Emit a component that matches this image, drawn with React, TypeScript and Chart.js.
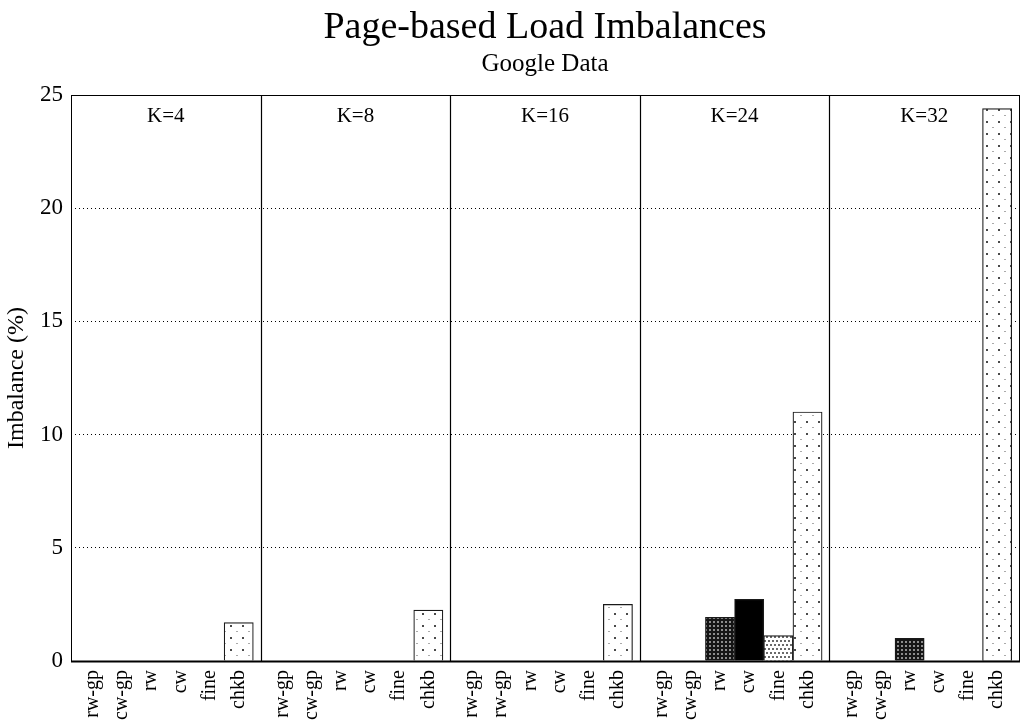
import { useEffect, useRef } from 'react';
import { Chart, registerables } from 'chart.js';

Chart.register(...registerables);

// Series order inside every group of bars
const seriesNames = ['rw-gp', 'cw-gp', 'rw', 'cw', 'fine', 'chkb'];

// One group of bars per partition count
const groupLabels = ['K=4', 'K=8', 'K=16', 'K=24', 'K=32'];

// Tick labels printed under each group
const tickLabelsK4 = ['rw-gp', 'cw-gp', 'rw', 'cw', 'fine', 'chkb'];
const tickLabelsK8 = ['rw-gp', 'cw-gp', 'rw', 'cw', 'fine', 'chkb'];
const tickLabelsK16 = ['rw-gp', 'rw-gp', 'rw', 'cw', 'fine', 'chkb'];
const tickLabelsK24 = ['rw-gp', 'cw-gp', 'rw', 'cw', 'fine', 'chkb'];
const tickLabelsK32 = ['rw-gp', 'cw-gp', 'rw', 'cw', 'fine', 'chkb'];

// Imbalance (%) per series, one array per group
const valuesK4 = [0, 0, 0, 0, 0, 1.7];
const valuesK8 = [0, 0, 0, 0, 0, 2.25];
const valuesK16 = [0, 0, 0, 0, 0, 2.5];
const valuesK24 = [0, 0, 1.93, 2.72, 1.12, 11.0];
const valuesK32 = [0, 0, 1.0, 0, 0, 24.4];

// Y axis range and step
const yMin = 0;
const yMax = 25;
const yStep = 5;

const groupTicks = [tickLabelsK4, tickLabelsK8, tickLabelsK16, tickLabelsK24, tickLabelsK32];
const groupValues = [valuesK4, valuesK8, valuesK16, valuesK24, valuesK32];

// Each group spans six bar slots plus a little padding on both sides
const GROUP_SPAN = 6.5;
const GROUP_PAD = 0.25;

const FONT = '"Liberation Serif", "Times New Roman", serif';

function makePattern(
  w: number,
  h: number,
  bg: string,
  dots: Array<[number, number, number, number, string]>
): CanvasPattern | string {
  const c = document.createElement('canvas');
  c.width = w;
  c.height = h;
  const g = c.getContext('2d');
  if (!g) return bg;
  g.fillStyle = bg;
  g.fillRect(0, 0, w, h);
  for (const [x, y, dw, dh, col] of dots) {
    g.fillStyle = col;
    g.fillRect(x, y, dw, dh);
  }
  const p = g.createPattern(c, 'repeat');
  return p || bg;
}

export default function App() {
  const canvasRef = useRef<HTMLCanvasElement | null>(null);

  useEffect(() => {
    const canvas = canvasRef.current;
    if (!canvas) return;

    // fill style for each series
    const fills: Record<string, CanvasPattern | string> = {
      'rw-gp': '#ffffff',
      'cw-gp': '#ffffff',
      rw: makePattern(4, 4, '#151515', [[1, 1, 2, 2, '#8c8c8c']]),
      cw: '#000000',
      fine: makePattern(8, 8, '#ffffff', [
        [0, 0, 2, 2, '#6a6a6a'],
        [4, 0, 2, 2, '#6a6a6a'],
        [2, 4, 2, 2, '#6a6a6a'],
        [6, 4, 2, 2, '#6a6a6a'],
      ]),
      chkb: makePattern(12, 12, '#ffffff', [
        [2, 1, 2, 2, '#4a4a4a'],
        [8, 7, 2, 1, '#aaaaaa'],
      ]),
    };

    const points: { x: number; y: number }[] = [];
    const colors: (CanvasPattern | string)[] = [];
    const centers: number[] = [];
    const labels: string[] = [];
    groupValues.forEach((vals, g) => {
      vals.forEach((v, i) => {
        const cx = g * GROUP_SPAN + GROUP_PAD + i + 0.5;
        points.push({ x: cx, y: v });
        colors.push(fills[seriesNames[i]]);
        centers.push(cx);
        labels.push(groupTicks[g][i]);
      });
    });

    const panelPlugin = {
      id: 'panels',
      afterDatasetsDraw(chart: any) {
        const { ctx, chartArea, scales } = chart;
        const { left, right, top, bottom } = chartArea;
        ctx.save();
        ctx.strokeStyle = '#000';
        // separators between groups
        ctx.lineWidth = 1.2;
        for (let g = 1; g < groupLabels.length; g++) {
          const px = Math.round(scales.x.getPixelForValue(g * GROUP_SPAN)) + 0.5;
          ctx.beginPath();
          ctx.moveTo(px, top);
          ctx.lineTo(px, bottom);
          ctx.stroke();
        }
        // frame
        ctx.lineWidth = 1;
        ctx.strokeRect(Math.round(left) + 0.5, Math.round(top) + 0.5, Math.round(right - left), Math.round(bottom - top));
        ctx.lineWidth = 2;
        ctx.beginPath();
        ctx.moveTo(left, Math.round(bottom) + 0.5);
        ctx.lineTo(right + 1, Math.round(bottom) + 0.5);
        ctx.stroke();
        // group captions
        ctx.fillStyle = '#000';
        ctx.font = `21px ${FONT}`;
        ctx.textAlign = 'center';
        ctx.textBaseline = 'alphabetic';
        groupLabels.forEach((lab, g) => {
          const cx = scales.x.getPixelForValue(g * GROUP_SPAN + GROUP_SPAN / 2);
          ctx.fillText(lab, cx, top + 27);
        });
        ctx.restore();
      },
      afterDraw(chart: any) {
        const { ctx, chartArea } = chart;
        const cx = (chartArea.left + chartArea.right) / 2;
        ctx.save();
        ctx.fillStyle = '#000';
        ctx.textAlign = 'center';
        ctx.textBaseline = 'alphabetic';
        ctx.font = `38px ${FONT}`;
        ctx.fillText('Page-based Load Imbalances', cx, 38);
        ctx.font = `25px ${FONT}`;
        ctx.fillText('Google Data', cx, 71);
        ctx.restore();
      },
    };

    const chart = new Chart(canvas, {
      type: 'bar',
      data: {
        datasets: [
          {
            label: 'Imbalance',
            data: points,
            backgroundColor: colors,
            borderColor: '#1a1a1a',
            borderWidth: 1.2,
            categoryPercentage: 1,
            barPercentage: 1,
          },
        ],
      },
      options: {
        responsive: false,
        animation: false,
        layout: { padding: { top: 95, right: 5, left: 0, bottom: 0 } },
        plugins: {
          legend: { display: false },
          tooltip: { enabled: false },
          title: { display: false },
        },
        scales: {
          x: {
            type: 'linear',
            min: 0,
            max: groupLabels.length * GROUP_SPAN,
            offset: false,
            grid: { display: false, drawTicks: false },
            border: { display: false },
            afterBuildTicks: (scale: any) => {
              scale.ticks = centers.map((v) => ({ value: v }));
            },
            afterFit: (scale: any) => {
              scale.height = 66;
              scale.paddingLeft = 0;
              scale.paddingRight = 0;
            },
            ticks: {
              autoSkip: false,
              minRotation: 90,
              maxRotation: 90,
              padding: 9,
              color: '#000',
              font: { family: FONT, size: 20 },
              callback: (_v: any, i: number) => labels[i],
            },
          },
          y: {
            min: yMin,
            max: yMax,
            afterFit: (scale: any) => {
              scale.width = 71;
              scale.paddingTop = 0;
              scale.paddingBottom = 0;
            },
            ticks: {
              stepSize: yStep,
              padding: 8,
              color: '#000',
              font: { family: FONT, size: 23 },
            },
            grid: {
              drawTicks: false,
              lineWidth: 1,
              color: (c: any) =>
                c.tick && (c.tick.value === yMin || c.tick.value === yMax) ? 'rgba(0,0,0,0)' : '#000',
            },
            border: { display: false, dash: [1, 3] },
            title: {
              display: true,
              text: 'Imbalance (%)',
              color: '#000',
              font: { family: FONT, size: 24 },
              padding: { top: 2, bottom: 2 },
            },
          },
        },
      },
      plugins: [panelPlugin],
    });

    return () => {
      chart.destroy();
    };
  }, []);

  return (
    <div style={{ position: 'fixed', left: 0, top: 0, width: 1024, height: 727, background: '#fff' }}>
      <canvas ref={canvasRef} width={1024} height={727} style={{ display: 'block' }} />
    </div>
  );
}
